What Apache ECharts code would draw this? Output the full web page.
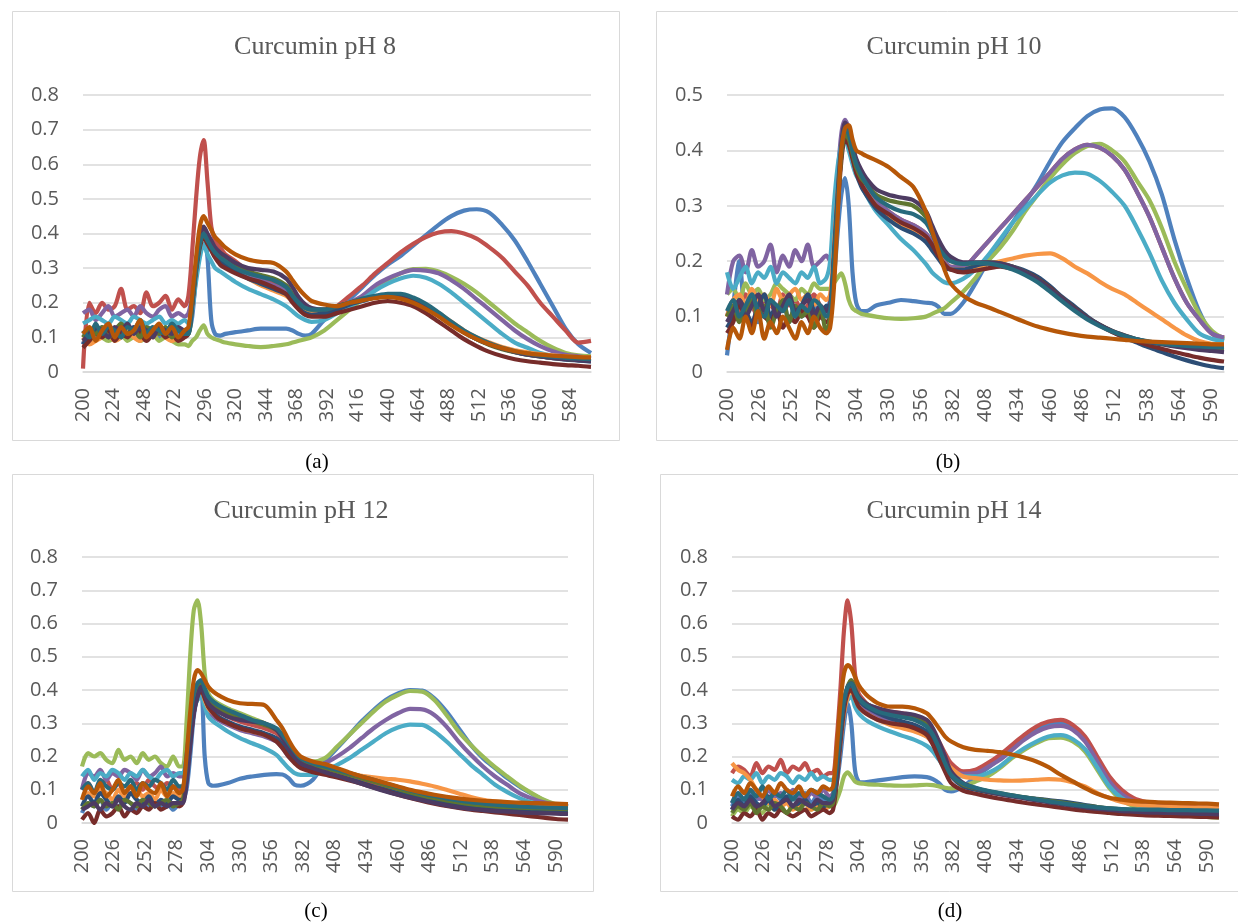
<!DOCTYPE html>
<html>
<head>
<meta charset="utf-8">
<title>Curcumin pH</title>
<script src="https://cdn.jsdelivr.net/npm/echarts@6.0.0/dist/echarts.min.js"></script>
<style>
html, body { margin: 0; padding: 0; background: #fff; }
#main { width: 1238px; height: 922px; }
</style>
</head>
<body>
<div id="main"></div>
<script>
// wavelength (nm), shared by every spectrum
let wl = [200,205,210,215,220,225,230,235,240,245,250,255,260,265,270,275,280,
  283,286,289,292,295,298,301,304,308,312,
  320,330,340,350,360,365,370,375,380,
  390,400,410,420,430,440,450,460,470,480,490,500,510,520,530,540,550,560,570,580,590,600];

// (a) pH 8
let ph8_1 = [0.08,0.12,0.1,0.13,0.11,0.12,0.1,0.13,0.12,0.11,0.13,0.12,0.1,0.12,0.13,0.11,0.12,
  0.12,0.16,0.28,0.38,0.4,0.33,0.15,0.11,0.105,0.11,
  0.115,0.12,0.125,0.125,0.125,0.12,0.11,0.105,0.11,
  0.15,0.18,0.21,0.245,0.28,0.31,0.335,0.365,0.395,0.425,0.45,0.466,0.47,0.46,0.425,0.38,0.32,0.255,0.19,0.125,0.08,0.055];
let ph8_2 = [0.01,0.2,0.17,0.2,0.18,0.19,0.24,0.18,0.19,0.17,0.23,0.19,0.2,0.22,0.18,0.21,0.19,
  0.22,0.35,0.5,0.62,0.67,0.55,0.42,0.38,0.36,0.34,
  0.32,0.29,0.27,0.255,0.235,0.215,0.195,0.18,0.17,
  0.17,0.19,0.22,0.25,0.285,0.315,0.345,0.37,0.39,0.403,0.407,0.4,0.385,0.36,0.33,0.29,0.25,0.2,0.16,0.12,0.085,0.09];
let ph8_3 = [0.1,0.09,0.11,0.1,0.09,0.1,0.11,0.09,0.1,0.09,0.1,0.11,0.09,0.1,0.09,0.08,0.08,
  0.075,0.09,0.1,0.12,0.135,0.11,0.1,0.095,0.09,0.085,
  0.08,0.075,0.072,0.075,0.08,0.085,0.09,0.095,0.1,
  0.12,0.15,0.18,0.21,0.24,0.265,0.285,0.297,0.298,0.29,0.275,0.255,0.23,0.2,0.17,0.14,0.115,0.09,0.07,0.055,0.048,0.045];
let ph8_4 = [0.17,0.18,0.15,0.17,0.19,0.16,0.17,0.18,0.16,0.19,0.17,0.16,0.18,0.19,0.16,0.17,0.16,
  0.17,0.22,0.3,0.38,0.41,0.39,0.37,0.35,0.33,0.32,
  0.3,0.28,0.265,0.25,0.235,0.215,0.195,0.18,0.17,
  0.17,0.18,0.2,0.22,0.25,0.27,0.285,0.295,0.293,0.285,0.265,0.24,0.21,0.18,0.15,0.12,0.095,0.075,0.06,0.05,0.045,0.04];
let ph8_5 = [0.14,0.15,0.16,0.15,0.14,0.16,0.15,0.14,0.16,0.15,0.14,0.15,0.16,0.14,0.15,0.14,0.15,
  0.14,0.18,0.26,0.33,0.37,0.34,0.32,0.3,0.29,0.28,
  0.26,0.24,0.225,0.21,0.19,0.175,0.16,0.15,0.145,
  0.15,0.17,0.19,0.21,0.235,0.255,0.27,0.278,0.272,0.255,0.23,0.2,0.17,0.14,0.11,0.085,0.07,0.055,0.047,0.042,0.04,0.04];
let ph8_6 = [0.1,0.08,0.09,0.1,0.11,0.09,0.1,0.12,0.1,0.09,0.11,0.1,0.12,0.1,0.09,0.1,0.11,
  0.12,0.2,0.3,0.38,0.4,0.38,0.36,0.34,0.32,0.31,
  0.29,0.27,0.25,0.235,0.22,0.205,0.19,0.18,0.175,
  0.18,0.19,0.2,0.21,0.215,0.22,0.215,0.205,0.19,0.17,0.145,0.12,0.1,0.085,0.072,0.063,0.057,0.052,0.048,0.045,0.043,0.042];
let ph8_7 = [0.08,0.1,0.12,0.11,0.13,0.1,0.12,0.11,0.13,0.12,0.1,0.12,0.13,0.11,0.12,0.1,0.11,
  0.12,0.2,0.3,0.37,0.4,0.38,0.36,0.34,0.32,0.31,
  0.29,0.27,0.255,0.24,0.225,0.205,0.185,0.17,0.165,
  0.17,0.18,0.195,0.205,0.215,0.222,0.22,0.21,0.19,0.165,0.14,0.115,0.095,0.08,0.068,0.058,0.05,0.045,0.04,0.036,0.033,0.03];
let ph8_8 = [0.07,0.09,0.11,0.1,0.12,0.09,0.11,0.1,0.12,0.11,0.09,0.11,0.12,0.1,0.11,0.09,0.1,
  0.11,0.19,0.29,0.36,0.39,0.37,0.35,0.33,0.31,0.3,
  0.285,0.27,0.26,0.245,0.225,0.2,0.18,0.165,0.16,
  0.16,0.17,0.18,0.19,0.2,0.205,0.2,0.19,0.17,0.145,0.12,0.095,0.075,0.058,0.046,0.037,0.031,0.027,0.023,0.02,0.018,0.015];
let ph8_9 = [0.1,0.12,0.11,0.13,0.1,0.12,0.14,0.11,0.12,0.1,0.13,0.12,0.11,0.13,0.1,0.12,0.11,
  0.11,0.2,0.3,0.37,0.4,0.38,0.365,0.35,0.335,0.325,
  0.305,0.29,0.28,0.27,0.25,0.225,0.2,0.185,0.18,
  0.18,0.19,0.2,0.21,0.215,0.22,0.218,0.207,0.19,0.165,0.14,0.115,0.095,0.078,0.066,0.057,0.05,0.045,0.041,0.038,0.036,0.035];
let ph8_10 = [0.09,0.11,0.13,0.12,0.1,0.13,0.12,0.14,0.11,0.13,0.12,0.1,0.13,0.12,0.11,0.13,0.12,
  0.12,0.21,0.31,0.39,0.42,0.4,0.38,0.36,0.345,0.335,
  0.315,0.3,0.295,0.29,0.27,0.245,0.215,0.195,0.185,
  0.18,0.19,0.2,0.21,0.218,0.222,0.22,0.21,0.19,0.165,0.14,0.115,0.095,0.08,0.068,0.058,0.05,0.045,0.04,0.037,0.034,0.032];
let ph8_11 = [0.12,0.1,0.14,0.11,0.13,0.12,0.1,0.13,0.12,0.15,0.11,0.13,0.12,0.11,0.14,0.12,0.11,
  0.11,0.2,0.3,0.37,0.4,0.38,0.36,0.345,0.33,0.32,
  0.3,0.285,0.275,0.265,0.245,0.22,0.2,0.185,0.18,
  0.18,0.19,0.2,0.212,0.22,0.226,0.226,0.215,0.197,0.172,0.145,0.12,0.1,0.083,0.07,0.06,0.053,0.048,0.044,0.041,0.039,0.037];
let ph8_12 = [0.11,0.13,0.09,0.12,0.14,0.1,0.13,0.11,0.12,0.15,0.1,0.12,0.14,0.11,0.13,0.1,0.12,
  0.13,0.22,0.33,0.42,0.45,0.43,0.41,0.39,0.375,0.36,
  0.34,0.325,0.318,0.315,0.29,0.265,0.24,0.22,0.205,
  0.195,0.19,0.2,0.207,0.213,0.217,0.212,0.2,0.182,0.16,0.135,0.113,0.095,0.08,0.069,0.06,0.054,0.05,0.047,0.045,0.043,0.042];

// (b) pH 10
let ph10_1 = [0.03,0.12,0.2,0.1,0.13,0.09,0.12,0.1,0.11,0.13,0.09,0.12,0.1,0.11,0.12,0.1,0.11,
  0.13,0.17,0.25,0.32,0.35,0.3,0.18,0.125,0.11,0.11,
  0.12,0.125,0.13,0.128,0.125,0.124,0.118,0.105,0.105,
  0.125,0.16,0.2,0.235,0.27,0.305,0.34,0.38,0.415,0.44,0.462,0.474,0.476,0.46,0.425,0.38,0.32,0.24,0.17,0.11,0.07,0.057];
let ph10_2 = [0.1,0.13,0.11,0.14,0.12,0.1,0.13,0.12,0.11,0.14,0.12,0.13,0.11,0.12,0.14,0.12,0.11,
  0.12,0.2,0.3,0.4,0.44,0.43,0.4,0.37,0.35,0.335,
  0.31,0.29,0.275,0.265,0.25,0.235,0.215,0.2,0.19,
  0.19,0.21,0.235,0.26,0.285,0.31,0.335,0.36,0.385,0.402,0.41,0.405,0.39,0.365,0.325,0.28,0.225,0.17,0.125,0.095,0.07,0.062];
let ph10_3 = [0.14,0.15,0.13,0.16,0.14,0.15,0.13,0.14,0.16,0.15,0.14,0.13,0.15,0.14,0.16,0.15,0.15,
  0.15,0.16,0.17,0.178,0.16,0.13,0.115,0.11,0.105,0.103,
  0.1,0.097,0.096,0.097,0.1,0.105,0.11,0.115,0.125,
  0.145,0.17,0.2,0.225,0.255,0.29,0.32,0.35,0.375,0.395,0.408,0.412,0.4,0.38,0.345,0.31,0.26,0.2,0.15,0.105,0.075,0.06];
let ph10_4 = [0.14,0.2,0.21,0.18,0.22,0.19,0.2,0.23,0.18,0.21,0.19,0.22,0.2,0.23,0.19,0.2,0.21,
  0.2,0.26,0.35,0.43,0.455,0.44,0.41,0.38,0.355,0.34,
  0.31,0.29,0.275,0.265,0.25,0.235,0.215,0.2,0.19,
  0.19,0.21,0.235,0.26,0.285,0.31,0.335,0.36,0.385,0.402,0.41,0.405,0.39,0.365,0.325,0.28,0.225,0.17,0.125,0.095,0.07,0.062];
let ph10_5 = [0.18,0.15,0.17,0.19,0.16,0.18,0.17,0.19,0.16,0.18,0.17,0.16,0.18,0.17,0.19,0.16,0.17,
  0.2,0.3,0.37,0.41,0.42,0.4,0.375,0.355,0.34,0.32,
  0.29,0.265,0.24,0.22,0.195,0.18,0.17,0.162,0.16,
  0.168,0.185,0.21,0.24,0.27,0.295,0.32,0.342,0.355,0.36,0.358,0.345,0.325,0.3,0.26,0.215,0.165,0.125,0.095,0.07,0.06,0.055];
let ph10_6 = [0.1,0.13,0.14,0.12,0.15,0.13,0.14,0.12,0.15,0.13,0.14,0.15,0.13,0.14,0.12,0.14,0.13,
  0.14,0.22,0.32,0.4,0.43,0.42,0.39,0.36,0.34,0.325,
  0.3,0.28,0.265,0.255,0.24,0.225,0.21,0.195,0.185,
  0.185,0.19,0.195,0.2,0.205,0.21,0.213,0.214,0.205,0.19,0.178,0.163,0.15,0.14,0.125,0.11,0.095,0.08,0.066,0.056,0.051,0.05];
let ph10_7 = [0.08,0.1,0.13,0.11,0.09,0.12,0.14,0.1,0.12,0.11,0.13,0.1,0.12,0.14,0.11,0.1,0.12,
  0.11,0.2,0.3,0.39,0.43,0.42,0.39,0.36,0.335,0.32,
  0.295,0.275,0.26,0.25,0.235,0.22,0.205,0.19,0.185,
  0.185,0.192,0.196,0.195,0.19,0.183,0.172,0.155,0.135,0.118,0.1,0.085,0.073,0.062,0.053,0.044,0.036,0.028,0.021,0.015,0.01,0.007];
let ph10_8 = [0.07,0.09,0.12,0.1,0.08,0.11,0.1,0.09,0.11,0.08,0.1,0.09,0.11,0.1,0.08,0.1,0.09,
  0.1,0.19,0.29,0.38,0.42,0.41,0.385,0.36,0.34,0.325,
  0.3,0.285,0.27,0.26,0.245,0.23,0.21,0.195,0.185,
  0.18,0.183,0.187,0.19,0.186,0.18,0.168,0.152,0.133,0.115,0.098,0.084,0.072,0.063,0.055,0.048,0.042,0.036,0.031,0.026,0.022,0.019];
let ph10_9 = [0.1,0.12,0.09,0.11,0.13,0.1,0.12,0.08,0.11,0.13,0.09,0.12,0.1,0.11,0.08,0.12,0.07,
  0.1,0.19,0.3,0.39,0.43,0.42,0.395,0.37,0.35,0.34,
  0.32,0.31,0.305,0.3,0.28,0.255,0.23,0.21,0.2,
  0.195,0.197,0.198,0.196,0.19,0.18,0.167,0.15,0.132,0.114,0.098,0.085,0.074,0.066,0.059,0.054,0.05,0.047,0.045,0.043,0.041,0.04];
let ph10_10 = [0.09,0.11,0.13,0.1,0.12,0.14,0.11,0.13,0.1,0.12,0.14,0.11,0.12,0.13,0.1,0.12,0.11,
  0.12,0.21,0.32,0.41,0.45,0.44,0.41,0.385,0.365,0.35,
  0.33,0.32,0.315,0.31,0.29,0.265,0.24,0.22,0.208,
  0.198,0.198,0.198,0.196,0.19,0.18,0.167,0.15,0.132,0.114,0.098,0.085,0.074,0.066,0.059,0.054,0.05,0.046,0.043,0.04,0.038,0.036];
let ph10_11 = [0.11,0.13,0.1,0.12,0.14,0.11,0.1,0.13,0.12,0.11,0.13,0.1,0.12,0.11,0.13,0.12,0.1,
  0.11,0.2,0.31,0.4,0.44,0.43,0.4,0.375,0.355,0.34,
  0.315,0.3,0.29,0.285,0.27,0.25,0.225,0.21,0.2,
  0.195,0.197,0.196,0.192,0.185,0.175,0.162,0.145,0.127,0.11,0.095,0.083,0.073,0.065,0.059,0.055,0.051,0.049,0.047,0.046,0.045,0.045];
let ph10_12 = [0.04,0.08,0.06,0.1,0.07,0.11,0.06,0.09,0.07,0.1,0.08,0.06,0.09,0.07,0.1,0.08,0.07,
  0.08,0.15,0.28,0.4,0.44,0.445,0.42,0.4,0.395,0.39,
  0.382,0.37,0.352,0.334,0.29,0.255,0.22,0.185,0.16,
  0.138,0.125,0.117,0.108,0.099,0.09,0.082,0.076,0.071,0.067,0.064,0.062,0.06,0.058,0.056,0.055,0.054,0.053,0.052,0.051,0.05,0.05];

// (c) pH 12
let ph12_1 = [0.03,0.06,0.05,0.07,0.04,0.06,0.05,0.07,0.06,0.04,0.06,0.05,0.07,0.05,0.06,0.04,0.06,
  0.07,0.1,0.2,0.32,0.38,0.4,0.2,0.12,0.112,0.113,
  0.12,0.133,0.14,0.145,0.147,0.146,0.135,0.115,0.112,
  0.13,0.185,0.225,0.265,0.305,0.34,0.37,0.39,0.4,0.398,0.375,0.335,0.285,0.235,0.195,0.165,0.135,0.11,0.088,0.068,0.055,0.05];
let ph12_2 = [0.1,0.12,0.09,0.11,0.13,0.1,0.12,0.09,0.11,0.12,0.1,0.13,0.11,0.1,0.12,0.11,0.1,
  0.1,0.18,0.28,0.37,0.41,0.42,0.39,0.365,0.35,0.34,
  0.32,0.305,0.295,0.285,0.27,0.25,0.225,0.2,0.18,
  0.165,0.155,0.145,0.135,0.125,0.115,0.105,0.095,0.085,0.077,0.07,0.064,0.059,0.055,0.052,0.049,0.047,0.045,0.043,0.042,0.041,0.04];
let ph12_3 = [0.17,0.21,0.2,0.21,0.19,0.18,0.22,0.19,0.2,0.18,0.21,0.19,0.2,0.18,0.17,0.2,0.17,
  0.17,0.3,0.5,0.64,0.67,0.6,0.45,0.39,0.37,0.36,
  0.345,0.33,0.315,0.3,0.28,0.26,0.235,0.21,0.195,
  0.185,0.195,0.23,0.265,0.3,0.335,0.365,0.385,0.397,0.395,0.37,0.325,0.275,0.235,0.2,0.168,0.14,0.113,0.09,0.07,0.056,0.05];
let ph12_4 = [0.1,0.15,0.14,0.16,0.13,0.15,0.14,0.16,0.15,0.13,0.16,0.14,0.15,0.17,0.14,0.15,0.14,
  0.14,0.18,0.27,0.36,0.39,0.4,0.37,0.34,0.32,0.31,
  0.295,0.28,0.27,0.26,0.245,0.225,0.2,0.185,0.175,
  0.17,0.18,0.2,0.225,0.255,0.285,0.31,0.33,0.343,0.342,0.325,0.29,0.245,0.205,0.17,0.14,0.115,0.09,0.074,0.062,0.055,0.05];
let ph12_5 = [0.14,0.16,0.13,0.15,0.14,0.16,0.15,0.13,0.15,0.14,0.16,0.14,0.13,0.15,0.16,0.14,0.15,
  0.15,0.2,0.27,0.34,0.37,0.38,0.35,0.32,0.305,0.295,
  0.275,0.255,0.24,0.225,0.205,0.185,0.165,0.15,0.145,
  0.145,0.16,0.175,0.195,0.22,0.245,0.27,0.287,0.296,0.295,0.275,0.245,0.21,0.175,0.145,0.115,0.093,0.075,0.062,0.054,0.05,0.048];
let ph12_6 = [0.07,0.09,0.08,0.1,0.09,0.07,0.1,0.08,0.09,0.1,0.08,0.09,0.07,0.1,0.08,0.09,0.08,
  0.09,0.16,0.26,0.35,0.39,0.4,0.37,0.345,0.33,0.32,
  0.3,0.285,0.275,0.265,0.25,0.23,0.205,0.19,0.18,
  0.17,0.162,0.155,0.148,0.142,0.137,0.133,0.13,0.125,0.118,0.11,0.1,0.089,0.078,0.07,0.065,0.061,0.059,0.057,0.055,0.054,0.053];
let ph12_7 = [0.05,0.08,0.06,0.09,0.07,0.05,0.08,0.06,0.09,0.07,0.06,0.08,0.05,0.07,0.06,0.08,0.07,
  0.07,0.14,0.25,0.34,0.39,0.41,0.38,0.35,0.335,0.32,
  0.305,0.29,0.28,0.27,0.255,0.235,0.21,0.19,0.175,
  0.162,0.152,0.142,0.132,0.121,0.11,0.1,0.09,0.081,0.073,0.066,0.06,0.055,0.051,0.048,0.045,0.043,0.041,0.039,0.037,0.036,0.035];
let ph12_8 = [0.01,0.03,0.0,0.04,0.02,0.03,0.05,0.02,0.04,0.03,0.05,0.04,0.06,0.04,0.05,0.06,0.05,
  0.06,0.13,0.24,0.33,0.38,0.4,0.375,0.35,0.33,0.315,
  0.3,0.285,0.275,0.265,0.245,0.225,0.2,0.18,0.165,
  0.153,0.145,0.137,0.128,0.118,0.107,0.096,0.085,0.075,0.066,0.058,0.051,0.045,0.04,0.036,0.032,0.028,0.024,0.02,0.016,0.012,0.01];
let ph12_9 = [0.04,0.06,0.05,0.07,0.05,0.06,0.04,0.07,0.06,0.05,0.07,0.06,0.05,0.06,0.07,0.05,0.06,
  0.07,0.15,0.26,0.35,0.4,0.42,0.395,0.37,0.355,0.345,
  0.33,0.315,0.305,0.295,0.28,0.26,0.235,0.21,0.19,
  0.175,0.165,0.155,0.145,0.135,0.124,0.113,0.102,0.092,0.083,0.075,0.068,0.062,0.057,0.053,0.05,0.048,0.046,0.045,0.044,0.043,0.042];
let ph12_10 = [0.04,0.05,0.06,0.04,0.06,0.05,0.07,0.05,0.04,0.06,0.05,0.07,0.05,0.06,0.05,0.06,0.06,
  0.06,0.12,0.23,0.33,0.38,0.41,0.385,0.36,0.345,0.335,
  0.32,0.31,0.305,0.3,0.28,0.255,0.225,0.2,0.18,
  0.165,0.153,0.142,0.13,0.118,0.106,0.095,0.085,0.076,0.068,0.06,0.053,0.047,0.042,0.039,0.036,0.034,0.032,0.03,0.029,0.028,0.027];
let ph12_11 = [0.1,0.12,0.09,0.13,0.11,0.1,0.12,0.11,0.13,0.1,0.12,0.11,0.13,0.12,0.1,0.13,0.11,
  0.11,0.2,0.3,0.39,0.42,0.43,0.405,0.38,0.365,0.355,
  0.34,0.325,0.31,0.3,0.285,0.265,0.24,0.215,0.195,
  0.18,0.17,0.16,0.15,0.14,0.13,0.119,0.108,0.098,0.089,0.081,0.074,0.068,0.063,0.059,0.055,0.052,0.05,0.048,0.047,0.046,0.045];
let ph12_12 = [0.07,0.11,0.09,0.12,0.08,0.1,0.13,0.09,0.11,0.08,0.12,0.1,0.09,0.12,0.08,0.11,0.09,
  0.1,0.2,0.33,0.43,0.46,0.45,0.43,0.41,0.395,0.385,
  0.37,0.36,0.358,0.355,0.31,0.285,0.25,0.22,0.2,
  0.185,0.177,0.165,0.152,0.14,0.13,0.12,0.11,0.1,0.092,0.085,0.079,0.074,0.07,0.067,0.065,0.063,0.061,0.06,0.059,0.058,0.057];

// (d) pH 14
let ph14_1 = [0.05,0.08,0.06,0.09,0.07,0.08,0.06,0.09,0.07,0.06,0.08,0.07,0.09,0.06,0.08,0.07,0.08,
  0.08,0.12,0.2,0.3,0.36,0.3,0.16,0.125,0.122,0.124,
  0.128,0.133,0.138,0.14,0.138,0.132,0.12,0.1,0.095,
  0.11,0.14,0.165,0.195,0.23,0.26,0.28,0.295,0.3,0.29,0.25,0.19,0.125,0.085,0.062,0.052,0.047,0.044,0.042,0.04,0.038,0.037];
let ph14_2 = [0.15,0.17,0.16,0.14,0.18,0.15,0.17,0.16,0.19,0.15,0.17,0.16,0.18,0.15,0.16,0.14,0.15,
  0.15,0.25,0.4,0.58,0.67,0.6,0.45,0.39,0.37,0.355,
  0.345,0.335,0.33,0.32,0.3,0.275,0.245,0.21,0.18,
  0.155,0.16,0.18,0.205,0.235,0.265,0.29,0.305,0.31,0.295,0.26,0.2,0.14,0.1,0.075,0.063,0.057,0.053,0.05,0.048,0.046,0.045];
let ph14_3 = [0.02,0.04,0.03,0.05,0.04,0.03,0.06,0.04,0.05,0.03,0.05,0.04,0.06,0.04,0.05,0.04,0.05,
  0.05,0.07,0.1,0.14,0.152,0.14,0.125,0.12,0.118,0.116,
  0.115,0.113,0.112,0.113,0.115,0.114,0.11,0.106,0.104,
  0.11,0.125,0.14,0.165,0.195,0.22,0.24,0.255,0.257,0.245,0.215,0.16,0.105,0.07,0.05,0.04,0.033,0.028,0.024,0.02,0.018,0.016];
let ph14_4 = [0.06,0.09,0.07,0.1,0.08,0.07,0.1,0.08,0.09,0.07,0.1,0.08,0.07,0.09,0.08,0.1,0.08,
  0.09,0.15,0.25,0.35,0.4,0.41,0.385,0.36,0.345,0.335,
  0.32,0.305,0.29,0.278,0.26,0.24,0.215,0.185,0.16,
  0.148,0.15,0.168,0.19,0.22,0.25,0.273,0.288,0.292,0.28,0.245,0.185,0.125,0.087,0.066,0.055,0.05,0.046,0.043,0.041,0.04,0.039];
let ph14_5 = [0.13,0.12,0.14,0.13,0.15,0.12,0.14,0.13,0.15,0.14,0.12,0.14,0.13,0.15,0.13,0.14,0.13,
  0.13,0.18,0.26,0.34,0.37,0.38,0.35,0.33,0.315,0.305,
  0.29,0.275,0.262,0.25,0.232,0.215,0.19,0.165,0.148,
  0.14,0.14,0.15,0.17,0.2,0.225,0.245,0.26,0.264,0.252,0.222,0.167,0.11,0.075,0.057,0.048,0.044,0.041,0.039,0.038,0.037,0.036];
let ph14_6 = [0.18,0.16,0.15,0.13,0.1,0.08,0.06,0.07,0.05,0.06,0.04,0.05,0.06,0.04,0.05,0.04,0.05,
  0.06,0.13,0.24,0.33,0.38,0.4,0.375,0.35,0.335,0.325,
  0.31,0.295,0.285,0.275,0.26,0.24,0.215,0.19,0.165,
  0.14,0.135,0.13,0.128,0.127,0.128,0.13,0.132,0.13,0.122,0.11,0.09,0.075,0.063,0.056,0.052,0.05,0.048,0.047,0.046,0.045,0.044];
let ph14_7 = [0.04,0.07,0.05,0.08,0.06,0.05,0.07,0.04,0.06,0.08,0.05,0.06,0.07,0.05,0.06,0.05,0.06,
  0.07,0.14,0.26,0.36,0.4,0.42,0.395,0.37,0.355,0.345,
  0.33,0.315,0.305,0.295,0.275,0.25,0.215,0.175,0.14,
  0.11,0.1,0.093,0.087,0.082,0.077,0.073,0.069,0.065,0.06,0.054,0.048,0.043,0.04,0.038,0.036,0.035,0.034,0.033,0.032,0.031,0.03];
let ph14_8 = [0.02,0.01,0.03,0.02,0.04,0.01,0.03,0.02,0.04,0.03,0.02,0.03,0.04,0.02,0.03,0.04,0.03,
  0.04,0.12,0.24,0.34,0.39,0.4,0.375,0.35,0.335,0.325,
  0.31,0.3,0.295,0.285,0.265,0.235,0.195,0.155,0.12,
  0.097,0.088,0.08,0.073,0.067,0.061,0.056,0.051,0.046,0.041,0.037,0.033,0.03,0.027,0.025,0.023,0.022,0.021,0.02,0.019,0.018,0.017];
let ph14_9 = [0.03,0.05,0.04,0.06,0.03,0.05,0.04,0.06,0.05,0.03,0.05,0.04,0.06,0.05,0.04,0.06,0.05,
  0.06,0.14,0.26,0.36,0.41,0.43,0.405,0.38,0.365,0.355,
  0.34,0.33,0.325,0.315,0.295,0.27,0.23,0.185,0.145,
  0.115,0.104,0.096,0.089,0.083,0.077,0.072,0.067,0.062,0.057,0.052,0.048,0.044,0.041,0.039,0.037,0.036,0.035,0.034,0.033,0.032,0.031];
let ph14_10 = [0.04,0.06,0.05,0.07,0.05,0.06,0.08,0.05,0.06,0.07,0.05,0.07,0.06,0.05,0.07,0.06,0.06,
  0.07,0.14,0.26,0.36,0.41,0.42,0.4,0.38,0.365,0.355,
  0.345,0.335,0.33,0.325,0.31,0.285,0.245,0.2,0.155,
  0.12,0.105,0.095,0.087,0.08,0.074,0.068,0.062,0.057,0.052,0.047,0.043,0.039,0.036,0.034,0.032,0.031,0.03,0.029,0.028,0.027,0.026];
let ph14_11 = [0.06,0.09,0.07,0.1,0.08,0.11,0.07,0.09,0.08,0.1,0.07,0.09,0.08,0.1,0.09,0.08,0.07,
  0.08,0.17,0.28,0.37,0.41,0.42,0.395,0.375,0.36,0.35,
  0.335,0.325,0.318,0.31,0.29,0.265,0.225,0.18,0.145,
  0.118,0.106,0.097,0.09,0.083,0.077,0.071,0.065,0.06,0.055,0.051,0.047,0.044,0.042,0.041,0.04,0.04,0.039,0.039,0.038,0.038,0.037];
let ph14_12 = [0.08,0.11,0.09,0.12,0.1,0.08,0.11,0.09,0.12,0.1,0.09,0.11,0.08,0.1,0.09,0.11,0.1,
  0.11,0.22,0.36,0.45,0.475,0.465,0.44,0.415,0.395,0.38,
  0.36,0.35,0.35,0.345,0.33,0.31,0.285,0.26,0.245,
  0.228,0.22,0.217,0.213,0.206,0.197,0.185,0.168,0.145,0.125,0.105,0.088,0.076,0.07,0.066,0.064,0.062,0.061,0.06,0.059,0.058,0.056];

let titles = ['Curcumin pH 8', 'Curcumin pH 10', 'Curcumin pH 12', 'Curcumin pH 14'];
let captions = ['(a)', '(b)', '(c)', '(d)'];
let tickSteps = [24, 26, 26, 26];
let yMaxes = [0.8, 0.5, 0.8, 0.8];

let panelData = [
  [ph8_1, ph8_2, ph8_3, ph8_4, ph8_5, ph8_6, ph8_7, ph8_8, ph8_9, ph8_10, ph8_11, ph8_12],
  [ph10_1, ph10_2, ph10_3, ph10_4, ph10_5, ph10_6, ph10_7, ph10_8, ph10_9, ph10_10, ph10_11, ph10_12],
  [ph12_1, ph12_2, ph12_3, ph12_4, ph12_5, ph12_6, ph12_7, ph12_8, ph12_9, ph12_10, ph12_11, ph12_12],
  [ph14_1, ph14_2, ph14_3, ph14_4, ph14_5, ph14_6, ph14_7, ph14_8, ph14_9, ph14_10, ph14_11, ph14_12]
];

// Office 2010 series palette
let colors = ['#4F81BD', '#C0504D', '#9BBB59', '#8064A2', '#4BACC6', '#F79646',
  '#2C4D75', '#772C2A', '#5F7530', '#4D3B62', '#276A7C', '#B65708'];

// layout
let grids = [
  { left: 83, top: 95, width: 508, height: 277 },
  { left: 727, top: 95, width: 497, height: 277 },
  { left: 82, top: 557, width: 486, height: 266 },
  { left: 732, top: 557, width: 487, height: 266 }
];
let boxes = [
  { x: 12.5, y: 11.5, width: 607, height: 429 },
  { x: 656.5, y: 11.5, width: 590, height: 429 },
  { x: 12.5, y: 474.5, width: 581, height: 417 },
  { x: 660.5, y: 474.5, width: 590, height: 417 }
];
let titlePos = [[315, 47], [954, 47], [301, 511], [954, 511]];
let captionPos = [[317, 462], [948, 462], [316, 911], [950, 911]];

let labelFont = { color: '#595959', fontSize: 20, fontFamily: '"Open Sans", "Liberation Sans", sans-serif' };

let series = [];
panelData.forEach(function (list, i) {
  list.forEach(function (vals, k) {
    series.push({
      type: 'line',
      xAxisIndex: i,
      yAxisIndex: i,
      data: wl.map(function (x, j) { return [x, vals[j]]; }),
      showSymbol: false,
      smooth: 0.3,
      silent: true,
      lineStyle: { width: 4.2, color: colors[k] },
      itemStyle: { color: colors[k] }
    });
  });
});

let graphic = [];
boxes.forEach(function (b) {
  graphic.push({ type: 'rect', shape: b, style: { fill: 'none', stroke: '#D9D9D9', lineWidth: 1 }, silent: true });
});
titles.forEach(function (t, i) {
  graphic.push({
    type: 'text', x: titlePos[i][0], y: titlePos[i][1], silent: true,
    style: { text: t, fill: '#595959', font: '26px "Liberation Serif", "Times New Roman", serif',
      align: 'center', verticalAlign: 'middle', textAlign: 'center', textVerticalAlign: 'middle' }
  });
});
captions.forEach(function (t, i) {
  graphic.push({
    type: 'text', x: captionPos[i][0], y: captionPos[i][1], silent: true,
    style: { text: t, fill: '#000', font: '21px "Liberation Serif", "Times New Roman", serif',
      align: 'center', verticalAlign: 'middle', textAlign: 'center', textVerticalAlign: 'middle' }
  });
});

let option = {
  animation: false,
  backgroundColor: '#fff',
  grid: grids,
  xAxis: grids.map(function (g, i) {
    return {
      type: 'value', gridIndex: i, min: 200, max: 600, interval: tickSteps[i],
      axisLine: { show: true, lineStyle: { color: '#D9D9D9', width: 1.5 } },
      axisTick: { show: false },
      splitLine: { show: false },
      axisLabel: Object.assign({ rotate: 90, margin: 16, showMaxLabel: false }, labelFont)
    };
  }),
  yAxis: grids.map(function (g, i) {
    return {
      type: 'value', gridIndex: i, min: 0, max: yMaxes[i], interval: 0.1,
      axisLine: { show: false },
      axisTick: { show: false },
      splitLine: { lineStyle: { color: '#D9D9D9', width: 1.5 } },
      axisLabel: Object.assign({ margin: 24 }, labelFont)
    };
  }),
  graphic: graphic,
  series: series
};

let chart = echarts.init(document.getElementById('main'), null, { renderer: 'canvas' });
chart.setOption(option);
</script>
</body>
</html>
